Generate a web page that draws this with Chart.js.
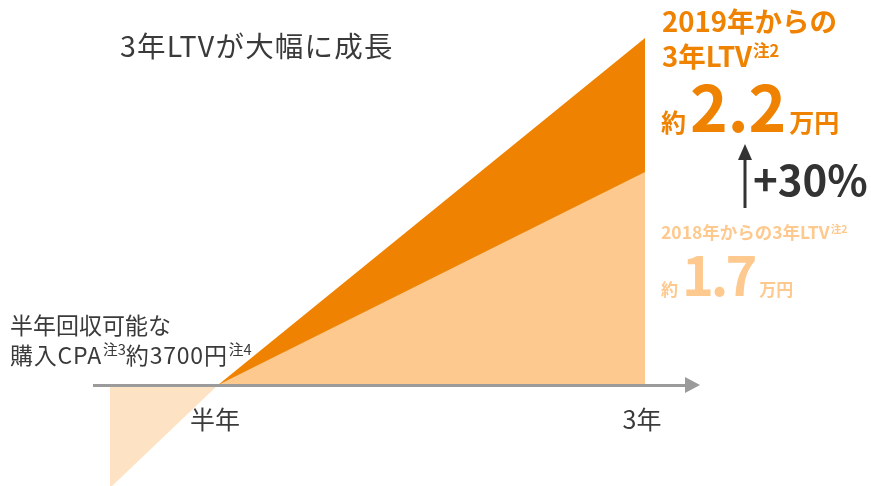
<!DOCTYPE html>
<html lang="ja">
<head>
<meta charset="utf-8">
<title>3年LTVが大幅に成長</title>
<script src="https://cdn.jsdelivr.net/npm/chart.js@4.4.1/dist/chart.umd.min.js"></script>
<style>
  html, body { margin: 0; padding: 0; background: #fff; }
  body { font-family: "Noto Sans CJK JP", "Noto Sans", sans-serif; color: #3a3a3a; }
  .board { position: relative; width: 871px; height: 486px; overflow: hidden; }
  .board canvas { position: absolute; left: 0; top: 0; }
  .note { position: absolute; white-space: nowrap; line-height: 1; }
  .sup { font-size: 0.6em; position: relative; top: -0.6em; margin-left: 1px; }
  .title { left: 120px; top: 31px; font-size: 28.5px; letter-spacing: 1.2px; }
  .cpa { left: 10px; top: 309px; font-size: 23px; line-height: 30px; }
  .cpa .sup { font-size: 0.64em; }
  .cpa .wide { letter-spacing: 0.8px; }
  .orange { color: #ef8200; font-weight: 700; }
  .light { color: #fec98e; font-weight: 700; }
  .now { left: 662px; top: 3px; font-size: 27.5px; line-height: 35px; }
  .value { display: flex; align-items: baseline; }
  .nowValue { left: 661px; top: 72px; }
  .nowValue .s { font-size: 25px; }
  .nowValue .big { font-size: 64px; margin: 0 3px 0 4px; }
  .growth { left: 753px; top: 157px; font-size: 42px; font-weight: 700; color: #333; }
  .prev { left: 661px; top: 223px; font-size: 17.5px; }
  .prevValue { left: 661px; top: 246px; }
  .prevValue .s { font-size: 17px; }
  .prevValue .big { font-size: 54px; letter-spacing: -3px; margin: 0 5px 0 4px; }
  .arrow { position: absolute; left: 731px; top: 140px; }
</style>
</head>
<body>
<div class="board">
  <canvas id="ltv" width="871" height="486"></canvas>
  <div class="note title">3年LTVが大幅に成長</div>
  <div class="note cpa">半年回収可能な<br><span class="wide">購入CPA</span><span class="sup">注3</span><span class="wide">約3700円</span><span class="sup">注4</span></div>
  <div class="note now orange">2019年からの<br>3年LTV<span class="sup">注2</span></div>
  <div class="note value nowValue orange"><span class="s">約</span><span class="big">2.2</span><span class="s">万円</span></div>
  <svg class="arrow" width="30" height="72" viewBox="0 0 30 72">
    <line x1="14" y1="14" x2="14" y2="68" stroke="#333" stroke-width="3"/>
    <polygon points="14,4 7,20 21,20" fill="#333"/>
  </svg>
  <div class="note growth">+30%</div>
  <div class="note prev light">2018年からの3年LTV<span class="sup">注2</span></div>
  <div class="note value prevValue light"><span class="s">約</span><span class="big">1.7</span><span class="s">万円</span></div>
</div>
<script>
// elapsed time in years
const years = [0.5, 3];
// cumulative 3-year LTV, 万円
const ltv2019 = [0, 2.2];
const ltv2018 = [0, 1.7];
// acquisition cost recovered within half a year (CPA 約3700円)
const paybackYears = [0, 0.5];
const paybackValues = [-0.37, 0];
// axis ticks
const tickYears = [0.5, 3];
const tickLabels = ['半年', '3年'];

const ORANGE = '#ef8200';
const LIGHT = '#fec98e';
const PALE = '#fde3c4';
const AXIS_COLOR = '#9b9b9b';

// plot box inside the canvas
const AREA = { left: 94, right: 687, top: 0, bottom: 486 };
const AXIS_Y = 385;

// min/max that put value a at pixel pa and value b at pixel pb
function rangeFor(a, pa, b, pb, from, to) {
  const k = (pb - pa) / (b - a);
  const v1 = a + (from - pa) / k;
  const v2 = a + (to - pa) / k;
  return { min: Math.min(v1, v2), max: Math.max(v1, v2) };
}

// the diagram is schematic, so each band gets its own stretch
const xMain = rangeFor(0.5, 218, 3, 645, AREA.left, AREA.right);
const xPay = rangeFor(0, 110, 0.5, 218, AREA.left, AREA.right);
const yNow = rangeFor(0, AXIS_Y, 2.2, 38, AREA.top, AREA.bottom);
const yPrev = rangeFor(0, AXIS_Y, 1.7, 172, AREA.top, AREA.bottom);
const yPay = rangeFor(0, AXIS_Y, -0.37, 488, AREA.top, AREA.bottom);

const toPoints = (xs, ys) => xs.map((x, i) => ({ x, y: ys[i] }));

// arrow head at the end of the time axis
const axisArrow = {
  id: 'axisArrow',
  afterDraw(chart) {
    const { ctx, chartArea } = chart;
    const y = chart.scales.y.getPixelForValue(0);
    const x = chartArea.right;
    ctx.save();
    ctx.fillStyle = AXIS_COLOR;
    ctx.beginPath();
    ctx.moveTo(x - 2, y - 8);
    ctx.lineTo(x + 13, y);
    ctx.lineTo(x - 2, y + 8);
    ctx.closePath();
    ctx.fill();
    ctx.restore();
  }
};

const hidden = { display: false, type: 'linear' };

new Chart(document.getElementById('ltv'), {
  type: 'line',
  data: {
    datasets: [
      {
        label: '2018年からの3年LTV',
        data: toPoints(years, ltv2018),
        yAxisID: 'yPrev',
        backgroundColor: LIGHT,
        fill: 'origin'
      },
      {
        label: '2019年からの3年LTV',
        data: toPoints(years, ltv2019),
        yAxisID: 'y',
        backgroundColor: ORANGE,
        fill: 'origin'
      },
      {
        label: '購入CPA',
        data: toPoints(paybackYears, paybackValues),
        xAxisID: 'xPay',
        yAxisID: 'yPay',
        backgroundColor: PALE,
        fill: 'origin'
      }
    ]
  },
  options: {
    responsive: false,
    animation: false,
    events: [],
    layout: { padding: { left: AREA.left, right: 871 - AREA.right, top: 0, bottom: 0 } },
    elements: {
      point: { radius: 0 },
      line: { borderWidth: 0, borderColor: 'transparent', tension: 0 }
    },
    plugins: { legend: { display: false }, tooltip: { enabled: false } },
    scales: {
      x: {
        type: 'linear',
        min: xMain.min,
        max: xMain.max,
        position: { y: 0 },
        grid: { display: false, drawTicks: false },
        border: { display: true, color: AXIS_COLOR, width: 3, z: 1 },
        ticks: {
          autoSkip: false,
          maxRotation: 0,
          padding: 19,
          labelOffset: -3,
          color: '#3a3a3a',
          font: { family: '"Noto Sans CJK JP", sans-serif', size: 25 },
          callback: (value, i) => tickLabels[i]
        },
        afterBuildTicks: (scale) => { scale.ticks = tickYears.map((v) => ({ value: v })); },
        afterFit: (scale) => { scale.height = 0; }
      },
      xPay: { ...hidden, min: xPay.min, max: xPay.max },
      y: { ...hidden, min: yNow.min, max: yNow.max },
      yPrev: { ...hidden, min: yPrev.min, max: yPrev.max },
      yPay: { ...hidden, min: yPay.min, max: yPay.max }
    }
  },
  plugins: [axisArrow]
});
</script>
</body>
</html>
